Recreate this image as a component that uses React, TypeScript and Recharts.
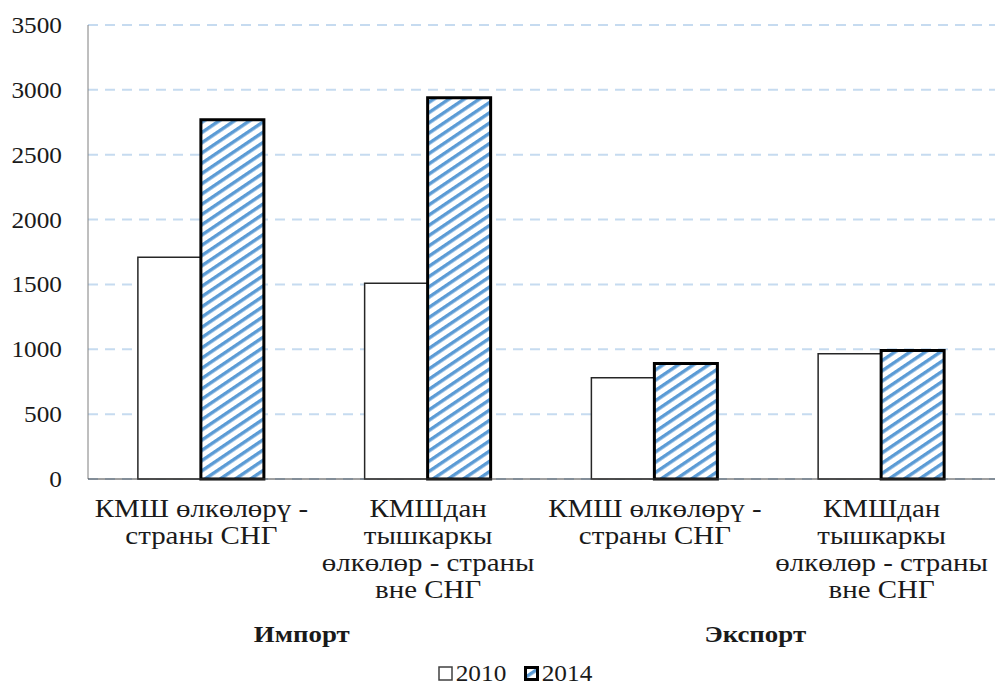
import React from 'react';
import { BarChart, Bar, XAxis, YAxis, CartesianGrid, Legend } from 'recharts';

// Categories (line-broken labels) and their group
const CATEGORIES = [
  ['КМШ өлкөлөрү -', 'страны СНГ'],
  ['КМШдан', 'тышкаркы', 'өлкөлөр - страны', 'вне СНГ'],
  ['КМШ өлкөлөрү -', 'страны СНГ'],
  ['КМШдан', 'тышкаркы', 'өлкөлөр - страны', 'вне СНГ'],
];
const GROUPS = ['Импорт', 'Импорт', 'Экспорт', 'Экспорт'];

// Series values
const VALUES_2010 = [1710, 1510, 780, 965];
const VALUES_2014 = [2770, 2940, 890, 990];

const Y_TICKS = [0, 500, 1000, 1500, 2000, 2500, 3000, 3500];

const FONT = 'Liberation Serif';
const INK = '#1a1a1a';

const data = CATEGORIES.map((lines, i) => ({
  key: `c${i}`,
  lines,
  group: GROUPS[i],
  v2010: VALUES_2010[i],
  v2014: VALUES_2014[i],
}));

// the source text is a bit stretched horizontally, hence the scale()
const ValueTick = (props: any) => {
  const { x, y, payload } = props;
  return (
    <text transform={`translate(${x},${y}) scale(1.1,1)`} x={0} y={0} dy="0.35em" textAnchor="end"
      style={{ fontFamily: FONT, fontSize: 23 }} fill={INK}>
      {payload.value}
    </text>
  );
};

const CategoryTick = (props: any) => {
  const { x, y, index } = props;
  const lines: string[] = data[index] ? data[index].lines : [];
  return (
    <text transform={`translate(${x},${y}) scale(1.18,1)`} x={0} y={0} textAnchor="middle"
      style={{ fontFamily: FONT, fontSize: 24.5 }} fill={INK}>
      {lines.map((l, i) => (
        <tspan key={i} x={0} dy={i === 0 ? 36 : 27}>{l}</tspan>
      ))}
    </text>
  );
};

const GroupTick = (props: any) => {
  const { x, y, payload } = props;
  return (
    <text transform={`translate(${x - 13},${y}) scale(1.12,1)`} x={0} y={0} dy={26} textAnchor="middle"
      style={{ fontFamily: FONT, fontSize: 24, fontWeight: 'bold' }} fill={INK}>
      {payload.value}
    </text>
  );
};

const LegendContent = () => (
  <div style={{ display: 'flex', justifyContent: 'center', alignItems: 'center', height: 37, boxSizing: 'border-box', paddingTop: 12, paddingLeft: 32, fontFamily: FONT, fontSize: 23, lineHeight: '23px', color: INK, gap: 20 }}>
    <div style={{ display: 'flex', alignItems: 'center', gap: 5 }}>
      <svg width={15} height={15}>
        <rect x={1} y={1} width={13} height={13} fill="#fff" stroke="#404040" strokeWidth={1.5} />
      </svg>
      <span style={{ display: 'inline-block', transform: 'scaleX(1.1)' }}>2010</span>
    </div>
    <div style={{ display: 'flex', alignItems: 'center', gap: 5 }}>
      <svg width={15} height={15}>
        <rect x={1.5} y={1.5} width={12} height={12} fill="url(#hatch)" stroke="#000" strokeWidth={3} />
      </svg>
      <span style={{ display: 'inline-block', transform: 'scaleX(1.1)' }}>2014</span>
    </div>
  </div>
);

export default function App() {
  return (
    <div style={{ position: 'absolute', left: 0, top: 0, width: 995, height: 686, background: '#fff' }}>
      <svg width={0} height={0} style={{ position: 'absolute' }}>
        <defs>
          <pattern id="hatch" patternUnits="userSpaceOnUse" width={8.5} height={8.5} patternTransform="rotate(-34)">
            <rect x={0} y={0} width={8.5} height={8.5} fill="#fff" />
            <rect x={0} y={0} width={8.5} height={3.4} fill="#5b9bd5" />
          </pattern>
        </defs>
      </svg>
      <BarChart
        width={995}
        height={686}
        data={data}
        margin={{ top: 25, right: 0, bottom: 0, left: 0 }}
        barCategoryGap="22%"
        barGap={0}
      >
        <CartesianGrid vertical={false} stroke="#c6dbf0" strokeWidth={2} strokeDasharray="10 7" />
        <YAxis
          domain={[0, 3500]}
          ticks={Y_TICKS}
          width={88}
          axisLine={{ stroke: '#7f7f7f' }}
          tickLine={false}
          tickSize={0}
          tickMargin={26}
          tick={<ValueTick />}
          interval={0}
        />
        <XAxis
          dataKey="key"
          height={135}
          axisLine={{ stroke: '#404040' }}
          tickLine={false}
          tickSize={0}
          tick={<CategoryTick />}
          interval={0}
        />
        <XAxis
          xAxisId="group"
          dataKey="group"
          allowDuplicatedCategory={false}
          height={35}
          axisLine={false}
          tickLine={false}
          tickSize={0}
          tick={<GroupTick />}
          interval={0}
        />
        <Legend verticalAlign="bottom" height={37} content={<LegendContent />} />
        <Bar dataKey="v2010" name="2010" fill="#fff" stroke="#262626" strokeWidth={1.5} isAnimationActive={false} />
        <Bar dataKey="v2014" name="2014" fill="url(#hatch)" stroke="#000" strokeWidth={3} isAnimationActive={false} />
      </BarChart>
    </div>
  );
}
